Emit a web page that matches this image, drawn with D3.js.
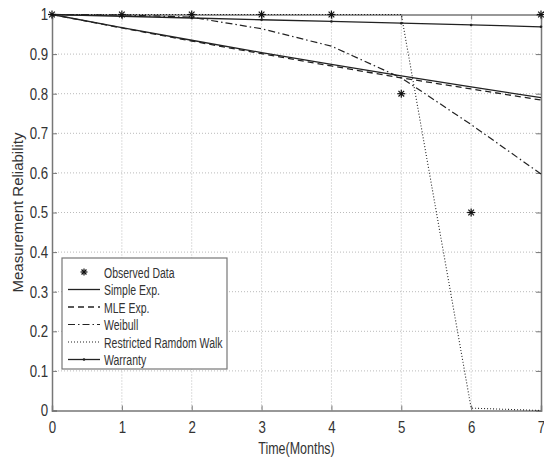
<!DOCTYPE html>
<html>
<head>
<meta charset="utf-8">
<script src="https://cdn.jsdelivr.net/npm/d3@7"></script>
<style>
body { margin: 0; background: #fff; }
text { font-family: "Liberation Sans", Arial, sans-serif; fill: #333; }
</style>
</head>
<body>
<script>
var months = [0, 1, 2, 3, 4, 5, 6, 7];
var observed = [1, 1, 1, 1, 1, 0.8, 0.5, 1];
var simpleExp = [1, 0.967, 0.935, 0.904, 0.874, 0.845, 0.817, 0.79];
var mleExp = [1, 0.966, 0.933, 0.901, 0.870, 0.840, 0.812, 0.784];
var weibull = [1, 0.999, 0.993, 0.964, 0.920, 0.840, 0.722, 0.597];
var randomWalk = [1, 1, 1, 1, 1, 1, 0.006, 0];
var warranty = [1, 0.9956, 0.9912, 0.9868, 0.9824, 0.978, 0.9736, 0.969];
var xTicks = [0, 1, 2, 3, 4, 5, 6, 7];
var yTicks = [0, 0.1, 0.2, 0.3, 0.4, 0.5, 0.6, 0.7, 0.8, 0.9, 1];

chart();

function chart ()
{
    var width = 544, height = 463;
    var pLeft = 52, pRight = 541, pTop = 14.5, pBottom = 410.5;

    var svg = d3.select("body").append("svg")
        .attr("width", width)
        .attr("height", height);

    var xScale = d3.scaleLinear().domain([0, 7]).range([pLeft, pRight]);
    var yScale = d3.scaleLinear().domain([0, 1]).range([pBottom, pTop]);

    // grid
    var grid = svg.append("g");
    grid.selectAll(".gx").data(xTicks.slice(1, -1)).enter().append("line")
        .attr("x1", d => xScale(d)).attr("x2", d => xScale(d))
        .attr("y1", pTop).attr("y2", pBottom)
        .style("stroke", "#bbb").style("stroke-dasharray", "1,2");
    grid.selectAll(".gy").data(yTicks.slice(1, -1)).enter().append("line")
        .attr("y1", d => yScale(d)).attr("y2", d => yScale(d))
        .attr("x1", pLeft).attr("x2", pRight)
        .style("stroke", "#bbb").style("stroke-dasharray", "1,2");

    // axes
    var xAxis = d3.axisBottom(xScale).tickValues(xTicks).tickSize(-5).tickPadding(10)
        .tickFormat(d3.format("d"));
    var yAxis = d3.axisLeft(yScale).tickValues(yTicks).tickSize(-5).tickPadding(5)
        .tickFormat(d => d === 0 || d === 1 ? d : d3.format(".1f")(d));
    var xTop = d3.axisTop(xScale).tickValues(xTicks).tickSize(-5).tickFormat("");
    var yRight = d3.axisRight(yScale).tickValues(yTicks).tickSize(-5).tickFormat("");

    [
        svg.append("g").attr("transform", "translate(0," + pBottom + ")").call(xAxis),
        svg.append("g").attr("transform", "translate(" + pLeft + ",0)").call(yAxis),
        svg.append("g").attr("transform", "translate(0," + pTop + ")").call(xTop),
        svg.append("g").attr("transform", "translate(" + pRight + ",0)").call(yRight)
    ].forEach(function (g)
    {
        g.select(".domain").style("stroke", "#777").style("stroke-width", 1.5);
        g.selectAll(".tick line").style("stroke", "#777");
        g.selectAll("text")
            .attr("transform", "scale(0.78,1)")
            .style("font-size", "17px").style("fill", "#333")
            .style("font-family", "'Liberation Sans', Arial, sans-serif");
    });

    // lines
    var line = d3.line()
        .x((d, i) => xScale(months[i]))
        .y(d => yScale(d));

    var series = [
        {name: "Simple Exp.", data: simpleExp, dash: null, width: 1.3},
        {name: "MLE Exp.", data: mleExp, dash: "6,4", width: 1.3},
        {name: "Weibull", data: weibull, dash: "7,3,1.5,3", width: 1.2},
        {name: "Restricted Ramdom Walk", data: randomWalk, dash: "1,2", width: 1.1},
        {name: "Warranty", data: warranty, dash: null, width: 1.3}
    ];

    series.forEach(function (s)
    {
        svg.append("path")
            .attr("d", line(s.data))
            .style("fill", "none")
            .style("stroke", "#222")
            .style("stroke-width", s.width)
            .style("stroke-dasharray", s.dash);
    });

    svg.selectAll(".wdot").data(warranty).enter().append("circle")
        .attr("cx", (d, i) => xScale(months[i]))
        .attr("cy", d => yScale(d))
        .attr("r", 1.3)
        .style("fill", "#222");

    // star marker
    function star (g, cx, cy, r)
    {
        [0, 45, 90, 135].forEach(function (deg)
        {
            var t = deg * Math.PI / 180;
            g.append("line")
                .attr("x1", cx - r * Math.cos(t)).attr("y1", cy - r * Math.sin(t))
                .attr("x2", cx + r * Math.cos(t)).attr("y2", cy + r * Math.sin(t))
                .style("stroke", "#111").style("stroke-width", 1.2);
        });
    }

    var obs = svg.append("g");
    observed.forEach(function (d, i)
    {
        star(obs, xScale(months[i]), yScale(d), 4);
    });

    // legend
    var lg = svg.append("g");
    lg.append("rect")
        .attr("x", 62).attr("y", 258)
        .attr("width", 165).attr("height", 111)
        .style("fill", "#fff").style("stroke", "#777").style("stroke-width", 1.2);

    var legendRows = [{name: "Observed Data", star: true}].concat(series);
    legendRows.forEach(function (s, i)
    {
        var y = 272 + i * 17.5;
        if (s.star)
        {
            star(lg, 84, y, 3.5);
        }
        else
        {
            lg.append("line")
                .attr("x1", 68).attr("x2", 100)
                .attr("y1", y).attr("y2", y)
                .style("stroke", "#222")
                .style("stroke-width", s.width)
                .style("stroke-dasharray", s.dash);
            if (s.name === "Warranty")
            {
                lg.append("circle").attr("cx", 84).attr("cy", y).attr("r", 1.3).style("fill", "#222");
            }
        }
        lg.append("text")
            .attr("transform", "translate(104," + (y + 5.5) + ") scale(0.7,1)")
            .style("font-size", "15px")
            .text(s.name);
    });

    // labels
    svg.append("text")
        .attr("transform", "translate(" + xScale(3.5) + ",454) scale(0.78,1)")
        .attr("text-anchor", "middle")
        .style("font-size", "16px")
        .text("Time(Months)");

    svg.append("text")
        .attr("transform", "translate(23," + yScale(0.5) + ") rotate(-90)")
        .attr("text-anchor", "middle")
        .style("font-size", "15px")
        .text("Measurement Reliability");
}
</script>
</body>
</html>
